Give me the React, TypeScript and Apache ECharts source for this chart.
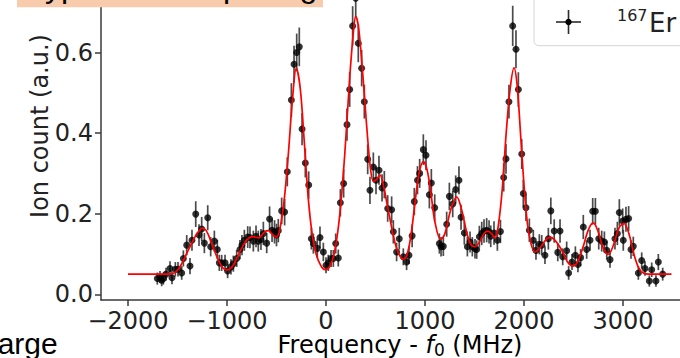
import React, { useEffect, useRef } from "react";
import * as echarts from "echarts";

// ---- data ----
const freqMHz = [
  -1704, -1677, -1660, -1643, -1616, -1576, -1556, -1522, -1495, -1458,
  -1441, -1407, -1374, -1354, -1316, -1283, -1256, -1229, -1195, -1165,
  -1128, -1098, -1078, -1054, -1020, -994, -960, -936, -902, -869,
  -849, -825, -791, -768, -734, -707, -684, -657, -633, -599,
  -570, -545, -520, -500, -482, -448, -418, -391, -350, -323,
  -296, -270, -242, -209, -175, -148, -128, -88, -61, -27,
  0, 23, 51, 74, 98, 124, 145, 178, 212, 239,
  269, 300, 326, 360, 387, 421, 444, 478, 505, 535,
  566, 589, 623, 663, 680, 713, 740, 781, 814, 838,
  870, 892, 924, 946, 983, 1010, 1044, 1064, 1098, 1145,
  1162, 1185, 1219, 1246, 1280, 1310, 1343, 1364, 1397, 1428,
  1455, 1478, 1505, 1522, 1549, 1573, 1596, 1623, 1647, 1664,
  1697, 1731, 1762, 1795, 1818, 1848, 1886, 1919, 1943, 1977,
  1993, 2020, 2054, 2094, 2121, 2155, 2179, 2212, 2246, 2271,
  2305, 2341, 2364, 2391, 2431, 2451, 2485, 2519, 2545, 2572,
  2599, 2633, 2667, 2694, 2721, 2755, 2785, 2812, 2836, 2869,
  2919, 2943, 2963, 2997, 3003, 3030, 3057, 3081, 3104, 3155,
  3189, 3222, 3266, 3290, 3333, 3357, 3401,
];
const ionCount = [
  0.039, 0.043, 0.035, 0.039, 0.05, 0.064, 0.041, 0.062, 0.062, 0.053,
  0.089, 0.122, 0.07, 0.134, 0.199, 0.147, 0.162, 0.127, 0.19, 0.118,
  0.132, 0.111, 0.078, 0.078, 0.078, 0.058, 0.068, 0.076, 0.089, 0.111,
  0.122, 0.134, 0.142, 0.141, 0.132, 0.144, 0.132, 0.136, 0.151, 0.127,
  0.187, 0.159, 0.155, 0.147, 0.158, 0.207, 0.204, 0.304, 0.482, 0.571,
  0.6, 0.614, 0.41, 0.326, 0.271, 0.138, 0.126, 0.114, 0.141, 0.105,
  0.072, 0.078, 0.089, 0.089, 0.126, 0.09, 0.227, 0.275, 0.421, 0.508,
  0.666, 0.735, 0.623, 0.561, 0.478, 0.335, 0.258, 0.316, 0.283, 0.308,
  0.264, 0.272, 0.213, 0.21, 0.155, 0.105, 0.138, 0.093, 0.08, 0.097,
  0.145, 0.23, 0.283, 0.3, 0.359, 0.345, 0.247, 0.276, 0.215, 0.126,
  0.118, 0.119, 0.174, 0.243, 0.224, 0.26, 0.283, 0.191, 0.152, 0.118,
  0.13, 0.118, 0.113, 0.111, 0.143, 0.151, 0.157, 0.159, 0.155, 0.144,
  0.152, 0.134, 0.156, 0.29, 0.336, 0.478, 0.666, 0.608, 0.508, 0.348,
  0.25, 0.215, 0.159, 0.134, 0.109, 0.124, 0.122, 0.097, 0.138, 0.207,
  0.157, 0.104, 0.157, 0.093, 0.108, 0.053, 0.08, 0.097, 0.074, 0.091,
  0.167, 0.111, 0.134, 0.206, 0.206, 0.138, 0.132, 0.13, 0.109, 0.086,
  0.138, 0.151, 0.203, 0.182, 0.134, 0.186, 0.188, 0.111, 0.119, 0.053,
  0.084, 0.064, 0.033, 0.061, 0.033, 0.08, 0.05,
];
const ionErr = [
  0.015, 0.015, 0.015, 0.015, 0.016, 0.018, 0.016, 0.018, 0.018, 0.017,
  0.02, 0.025, 0.02, 0.026, 0.032, 0.027, 0.03, 0.025, 0.031, 0.024,
  0.026, 0.024, 0.02, 0.02, 0.02, 0.018, 0.019, 0.02, 0.021, 0.024,
  0.025, 0.026, 0.027, 0.027, 0.026, 0.027, 0.026, 0.026, 0.029, 0.025,
  0.031, 0.029, 0.029, 0.028, 0.029, 0.033, 0.033, 0.036, 0.042, 0.046,
  0.047, 0.048, 0.04, 0.036, 0.034, 0.027, 0.025, 0.024, 0.027, 0.023,
  0.02, 0.02, 0.021, 0.021, 0.025, 0.021, 0.034, 0.035, 0.04, 0.043,
  0.049, 0.05, 0.047, 0.045, 0.042, 0.037, 0.034, 0.036, 0.035, 0.036,
  0.034, 0.034, 0.033, 0.033, 0.029, 0.023, 0.027, 0.021, 0.02, 0.022,
  0.028, 0.034, 0.035, 0.036, 0.038, 0.037, 0.034, 0.035, 0.033, 0.025,
  0.024, 0.024, 0.031, 0.034, 0.033, 0.035, 0.035, 0.031, 0.029, 0.024,
  0.026, 0.024, 0.024, 0.023, 0.027, 0.029, 0.029, 0.03, 0.029, 0.027,
  0.029, 0.026, 0.029, 0.035, 0.037, 0.042, 0.05, 0.047, 0.043, 0.037,
  0.034, 0.033, 0.029, 0.026, 0.023, 0.025, 0.025, 0.022, 0.027, 0.033,
  0.029, 0.022, 0.029, 0.021, 0.023, 0.017, 0.02, 0.022, 0.019, 0.021,
  0.03, 0.023, 0.026, 0.033, 0.033, 0.027, 0.026, 0.026, 0.023, 0.02,
  0.027, 0.029, 0.033, 0.031, 0.026, 0.031, 0.031, 0.023, 0.024, 0.017,
  0.02, 0.018, 0.014, 0.018, 0.014, 0.02, 0.016,
];
const fitFreq = [
  -2000, -1600, -1520, -1460, -1400, -1340, -1290, -1250, -1210, -1160,
  -1100, -1050, -1000, -950, -900, -850, -800, -740, -680, -620,
  -580, -540, -500, -460, -420, -380, -340, -300, -260, -220,
  -180, -140, -100, -50, -10, 40, 90, 140, 190, 240,
  280, 300, 330, 370, 410, 450, 480, 510, 545, 580,
  620, 660, 700, 740, 780, 820, 860, 900, 940, 983,
  1020, 1060, 1100, 1158, 1200, 1260, 1320, 1370, 1420, 1460,
  1505, 1550, 1600, 1636, 1680, 1707, 1740, 1780, 1820, 1860,
  1899, 1930, 1970, 2010, 2050, 2111, 2160, 2220, 2263, 2310,
  2380, 2440, 2491, 2540, 2600, 2650, 2700, 2750, 2800, 2852,
  2900, 2960, 3010, 3060, 3110, 3160, 3210, 3260, 3490,
];
const fitCount = [
  0.05, 0.05, 0.055, 0.075, 0.105, 0.135, 0.155, 0.164, 0.158, 0.13,
  0.092, 0.068, 0.06, 0.068, 0.09, 0.115, 0.135, 0.143, 0.14, 0.155,
  0.158, 0.148, 0.142, 0.17, 0.24, 0.35, 0.48, 0.561, 0.51, 0.38,
  0.24, 0.15, 0.1, 0.07, 0.061, 0.07, 0.11, 0.2, 0.35, 0.54,
  0.66, 0.69, 0.66, 0.55, 0.42, 0.31, 0.28, 0.285, 0.296, 0.27,
  0.22, 0.17, 0.125, 0.098, 0.087, 0.1, 0.15, 0.23, 0.3, 0.329,
  0.31, 0.25, 0.18, 0.136, 0.15, 0.21, 0.242, 0.21, 0.155, 0.125,
  0.118, 0.13, 0.152, 0.157, 0.148, 0.14, 0.17, 0.26, 0.4, 0.51,
  0.562, 0.52, 0.38, 0.24, 0.15, 0.105, 0.115, 0.135, 0.142, 0.135,
  0.11, 0.08, 0.07, 0.08, 0.12, 0.16, 0.177, 0.155, 0.115, 0.099,
  0.12, 0.165, 0.176, 0.15, 0.1, 0.065, 0.052, 0.05, 0.05,
];
const xTickValues = [-2000, -1000, 0, 1000, 2000, 3000];
const yTickValues = [0, 0.2, 0.4, 0.6];
const legendLabel = "Er";
const legendMass = "167";

const FONT = "DejaVu Sans";

export default function App() {
  const ref = useRef<HTMLDivElement>(null);
  useEffect(() => {
    if (!ref.current) return;
    const chart = echarts.init(ref.current, null, { renderer: "svg" });
    const points = freqMHz.map((f, i) => [f, ionCount[i], ionErr[i]]);
    const fit = fitFreq.map((f, i) => [f, fitCount[i]]);
    const axisColor = "#3a3a3a";
    chart.setOption({
      animation: false,
      backgroundColor: "#ffffff",
      grid: {
        left: 101,
        top: -48,
        width: 600,
        height: 348,
        containLabel: false,
        outerBoundsMode: "none",
      },
      xAxis: {
        type: "value",
        min: -2273,
        max: 3788,
        axisLine: { show: true, onZero: false, lineStyle: { color: axisColor, width: 1.5 } },
        axisTick: { show: true, customValues: xTickValues, length: 6, lineStyle: { color: axisColor, width: 1.5 } },
        axisLabel: {
          customValues: xTickValues,
          formatter: (v: number) => (v < 0 ? "\u2212" + Math.abs(v) : String(v)),
          fontSize: 24,
          lineHeight: 24,
          fontFamily: FONT,
          color: "#222",
          margin: 9,
        },
        splitLine: { show: false },
      },
      yAxis: {
        type: "value",
        min: -0.01414,
        max: 0.8494,
        axisLine: { show: true, onZero: false, lineStyle: { color: axisColor, width: 1.5 } },
        axisTick: { show: true, customValues: yTickValues, length: 6, lineStyle: { color: axisColor, width: 1.5 } },
        axisLabel: {
          customValues: yTickValues,
          formatter: (v: number) => v.toFixed(1),
          fontSize: 24,
          fontFamily: FONT,
          color: "#222",
          margin: 8,
        },
        splitLine: { show: false },
      },
      series: [
        {
          type: "custom",
          name: "err",
          data: points,
          encode: { x: 0, y: 1 },
          z: 2,
          renderItem: (params: any, api: any) => {
            const x = api.value(0);
            const y = api.value(1);
            const e = api.value(2);
            const p1 = api.coord([x, y - e]);
            const p2 = api.coord([x, y + e]);
            return {
              type: "line",
              shape: { x1: p1[0], y1: p1[1], x2: p2[0], y2: p2[1] },
              style: { stroke: "#2b2b2b", lineWidth: 1.7, opacity: 0.85 },
            };
          },
        },
        {
          type: "scatter",
          data: points,
          symbol: "circle",
          symbolSize: 7,
          itemStyle: { color: "#000" },
          z: 3,
        },
        {
          type: "line",
          data: fit,
          smooth: 0.35,
          showSymbol: false,
          lineStyle: { color: "#ff0000", width: 1.7 },
          z: 4,
        },
      ],
      graphic: [
        { type: "rect", shape: { x: 17, y: -6, width: 306, height: 13.3 }, style: { fill: "#f8cbad" }, z: 10 },
        {
          type: "text",
          x: 22,
          y: -14,
          z: 11,
          style: { text: "Hypothetical spacing", font: '32px "Liberation Sans"', fill: "#000", verticalAlign: "middle" },
        },
        {
          type: "text",
          x: -9,
          y: 343,
          z: 11,
          style: { text: "large", font: '30px "Liberation Sans"', fill: "#000", verticalAlign: "middle" },
        },
        {
          type: "text",
          x: 40,
          y: 126,
          rotation: Math.PI / 2,
          z: 11,
          style: {
            text: "Ion count (a.u.)",
            font: `24px "${FONT}"`,
            fill: "#222",
            align: "center",
            verticalAlign: "middle",
          },
        },
        {
          type: "text",
          x: 400,
          y: 345,
          z: 11,
          style: {
            text: "{n|Frequency - }{i|f}{s|0}{n| (MHz)}",
            align: "center",
            verticalAlign: "middle",
            rich: {
              n: { fontFamily: FONT, fontSize: 24, color: "#222", lineHeight: 26 },
              i: { fontFamily: FONT, fontSize: 24, fontStyle: "italic", color: "#222", lineHeight: 26 },
              s: { fontFamily: FONT, fontSize: 17, color: "#222", lineHeight: 17, verticalAlign: "bottom", padding: [7, 0, 0, 0] },
            },
          },
        },
        {
          type: "rect",
          z: 12,
          shape: { x: 534, y: -10, width: 170, height: 55.7, r: 5 },
          style: { fill: "rgba(255,255,255,0.9)", stroke: "#d6d6d6", lineWidth: 1 },
        },
        { type: "line", z: 13, shape: { x1: 556, y1: 22, x2: 581, y2: 22 }, style: { stroke: "#2b2b2b", lineWidth: 1.6 } },
        { type: "line", z: 13, shape: { x1: 568.5, y1: 10, x2: 568.5, y2: 34 }, style: { stroke: "#2b2b2b", lineWidth: 1.6 } },
        { type: "circle", z: 14, shape: { cx: 568.5, cy: 22, r: 3.2 }, style: { fill: "#000" } },
        {
          type: "text",
          z: 14,
          x: 617,
          y: 15.2,
          style: { text: legendMass, font: `16px "${FONT}"`, fill: "#222", verticalAlign: "middle" },
        },
        {
          type: "text",
          z: 14,
          x: 649,
          y: 23,
          style: { text: legendLabel, font: `26px "${FONT}"`, fill: "#222", verticalAlign: "middle" },
        },
      ],
    });
    return () => chart.dispose();
  }, []);
  return <div ref={ref} style={{ position: "absolute", left: 0, top: 0, width: 680, height: 358 }} />;
}
